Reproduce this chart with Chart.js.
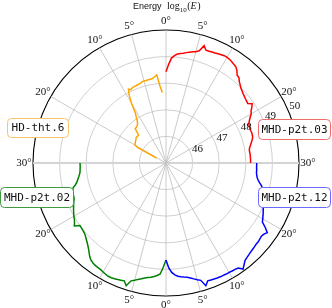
<!DOCTYPE html>
<html>
<head>
<meta charset="utf-8">
<script src="https://cdn.jsdelivr.net/npm/chart.js@4"></script>
<style>html,body{margin:0;padding:0;background:#fff}</style>
</head>
<body>
<canvas id="polar" width="332" height="308"></canvas>
<script>
// every series is sampled every half degree of polar angle
const sampleStep = 0.5;
const angleTicks = [0, 5, 10, 20, 30];
const energyTicks = [46, 47, 48, 49, 50];
const seriesNames = ['MHD-p2t.03', 'MHD-p2t.12', 'MHD-p2t.02', 'HD-tht.6'];
const seriesStart = [0, 0, 0, 1];   // first sampled angle (deg)

// log10(E) per angle, quadrant: top right
const mhdP2t03 = [48.43, 48.70, 48.95, 49.05, 49.12, 49.15, 49.18, 49.22, 49.26, 49.30,
  49.33, 49.40, 49.64, 49.50, 49.50, 49.52, 49.53, 49.55, 49.57, 49.59,
  49.59, 49.57, 49.54, 49.50, 49.47, 49.38, 49.25, 49.22, 49.12, 49.05,
  48.98, 48.94, 48.90, 48.87, 48.84, 48.82, 48.80, 48.93, 48.85, 48.75,
  48.70, 48.60, 48.52, 48.45, 48.42, 48.41, 48.41, 48.42, 48.41, 48.40,
  48.35, 48.30, 48.25, 48.20, 48.17, 48.17, 48.18, 48.18, 48.18, 48.18, 48.18];
// bottom right
const mhdP2t12 = [48.65, 48.95, 49.12, 49.22, 49.28, 49.31, 49.34, 49.37, 49.42, 49.48,
  49.54, 49.60, 49.85, 49.70, 49.71, 49.72, 49.73, 49.74, 49.74, 49.75,
  49.75, 49.76, 49.77, 49.79, 49.93, 49.82, 49.72, 49.68, 49.65, 49.62,
  49.60, 49.58, 49.56, 49.56, 49.54, 49.52, 49.55, 49.62, 49.45, 49.25,
  49.20, 49.15, 49.10, 49.05, 49.00, 48.98, 48.96, 48.92, 48.86, 48.80,
  48.75, 48.70, 48.60, 48.52, 48.47, 48.44, 48.42, 48.42, 48.41, 48.41, 48.41];
// bottom left
const mhdP2t02 = [48.65, 48.92, 49.18, 49.24, 49.29, 49.33, 49.36, 49.40, 49.45, 49.50,
  49.56, 49.62, 49.85, 49.70, 49.72, 49.74, 49.76, 49.78, 49.78, 49.76,
  49.73, 49.70, 49.69, 49.68, 49.66, 49.62, 49.55, 49.45, 49.35, 49.27,
  49.20, 49.14, 49.08, 49.04, 49.02, 49.01, 49.00, 49.18, 49.10, 49.04,
  49.00, 48.95, 48.90, 48.85, 48.80, 48.75, 48.70, 48.69, 48.67, 48.65,
  48.62, 48.50, 48.42, 48.37, 48.32, 48.28, 48.25, 48.24, 48.23, 48.23, 48.23];
// top left, from 1 deg to 21 deg
const hdTht6 = [47.65, 47.90, 48.33, 48.27, 48.22, 48.20, 48.20, 48.19, 48.19, 48.18,
  48.15, 48.13, 48.12, 48.11, 48.10, 48.05, 48.11, 47.90, 47.60, 47.20,
  47.05, 46.90, 46.82, 46.78, 46.75, 46.74, 46.73, 46.55, 46.46, 46.47,
  46.47, 46.47, 46.45, 46.43, 46.41, 46.40, 46.38, 46.36, 46.35, 46.22, 45.40];

const seriesValues = [mhdP2t03, mhdP2t12, mhdP2t02, hdTht6];
const lineColors = ['#ff0000', '#0000ff', '#008000', '#ffa500'];
const boxColors = ['#f26b6b', '#6a6aff', '#3f9a3f', '#f9c56a'];
const boxes = [
  {x: 258.5, y: 119.5, w: 72, h: 20},
  {x: 258.5, y: 187.5, w: 72, h: 20},
  {x: 0.5, y: 187.5, w: 73, h: 20},
  {x: 7.5, y: 118.5, w: 61, h: 19}
];

const quarter = 30 / sampleStep;
const nSpokes = 4 * quarter;

// quadrant 0: top right, 1: bottom right, 2: bottom left, 3: top left
function spokeIndex(q, theta) {
  const k = Math.round(theta / sampleStep);
  const idx = [k, 2 * quarter - k, 2 * quarter + k, 4 * quarter - k][q];
  return ((idx % nSpokes) + nSpokes) % nSpokes;
}

const labels = new Array(nSpokes).fill('');
const datasets = seriesValues.map((vals, q) => {
  const data = new Array(nSpokes).fill(null);
  vals.forEach((v, i) => { data[spokeIndex(q, seriesStart[q] + i * sampleStep)] = v; });
  return {
    label: seriesNames[q],
    data: data,
    borderColor: lineColors[q],
    borderWidth: 1.5,
    pointRadius: 0,
    fill: false,
    spanGaps: false
  };
});

const gridSpokes = new Set();
[0, 1, 2, 3].forEach(q => angleTicks.forEach(t => gridSpokes.add(spokeIndex(q, t))));
const horizontal = new Set([spokeIndex(0, 30), spokeIndex(2, 30)]);

const overlay = {
  id: 'overlay',
  afterDatasetsDraw(chart) {
    const r = chart.scales.r;
    const ctx = chart.ctx;
    ctx.save();
    ctx.fillStyle = '#111';
    ctx.textAlign = 'center';
    ctx.textBaseline = 'middle';
    ctx.font = '11px "Liberation Serif"';
    const done = new Set();
    [0, 1, 2, 3].forEach(q => angleTicks.forEach(t => {
      const i = spokeIndex(q, t);
      if (done.has(i)) return;
      done.add(i);
      const p = r.getPointPosition(i, r.drawingArea + 9);
      ctx.fillText(t + '°', p.x, p.y);
    }));
    const tickSpoke = Math.round(66 / 360 * nSpokes);
    energyTicks.forEach(v => {
      const p = r.getPointPosition(tickSpoke, r.getDistanceFromCenterForValue(v) + 8);
      ctx.fillText(String(v), p.x, p.y);
    });

    // title: Energy log10(E)
    ctx.textAlign = 'left';
    ctx.textBaseline = 'alphabetic';
    let x = 133, y = 9;
    ctx.font = '9px "Liberation Sans"';
    ctx.fillText('Energy', x, y);
    x = 167;
    ctx.font = '10px "Liberation Serif"';
    ctx.fillText('log', x, y); x += ctx.measureText('log').width;
    ctx.font = '7px "Liberation Serif"';
    ctx.fillText('10', x, y + 2.5); x += ctx.measureText('10').width + 0.5;
    ctx.font = '10px "Liberation Serif"';
    ctx.fillText('(', x, y); x += ctx.measureText('(').width;
    ctx.font = 'italic 10px "Liberation Serif"';
    ctx.fillText('E', x, y); x += ctx.measureText('E').width + 0.5;
    ctx.font = '10px "Liberation Serif"';
    ctx.fillText(')', x, y);

    // labelled boxes
    ctx.font = '11px "DejaVu Sans Mono"';
    ctx.textAlign = 'center';
    ctx.textBaseline = 'middle';
    boxes.forEach((b, q) => {
      ctx.beginPath();
      ctx.roundRect(b.x, b.y, b.w, b.h, 4);
      ctx.fillStyle = '#fff';
      ctx.fill();
      ctx.lineWidth = 1;
      ctx.strokeStyle = boxColors[q];
      ctx.stroke();
      ctx.fillStyle = '#111';
      ctx.fillText(seriesNames[q], b.x + b.w / 2, b.y + b.h / 2 + 0.5);
    });
    ctx.restore();
  }
};

new Chart(document.getElementById('polar'), {
  type: 'radar',
  data: { labels: labels, datasets: datasets },
  options: {
    responsive: false,
    animation: false,
    devicePixelRatio: 1,
    layout: { padding: { left: 33, right: 33, top: 30, bottom: 12 } },
    plugins: { legend: { display: false }, tooltip: { enabled: false } },
    elements: { line: { tension: 0 } },
    scales: {
      r: {
        min: 45,
        max: 50,
        startAngle: 0,
        ticks: { display: false, stepSize: 1 },
        pointLabels: { display: false },
        grid: {
          circular: true,
          color: c => c.tick && c.tick.value === 50 ? '#000' : '#c4c4c4',
          lineWidth: c => c.tick && c.tick.value === 50 ? 1.1 : 0.8
        },
        angleLines: {
          display: true,
          color: c => horizontal.has(c.index) ? '#d4d4d4' : '#bdbdbd',
          lineWidth: c => !gridSpokes.has(c.index) ? 0 : (horizontal.has(c.index) ? 1.8 : 0.8)
        }
      }
    }
  },
  plugins: [overlay]
});
</script>
</body>
</html>
